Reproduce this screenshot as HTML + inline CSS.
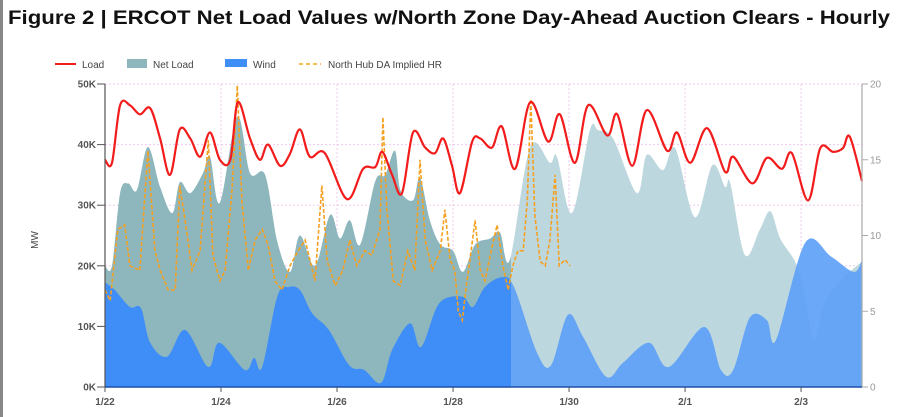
<!DOCTYPE html>
<html><head><meta charset="utf-8"><style>
html,body{margin:0;padding:0;background:#fff;}
svg{display:block;font-family:"Liberation Sans",sans-serif;}
</style></head><body>
<svg id="c" width="900" height="417" viewBox="0 0 900 417" xmlns="http://www.w3.org/2000/svg">
<rect x="0" y="0" width="900" height="417" fill="#fff"/>
<line x1="1.5" y1="0" x2="1.5" y2="417" stroke="#888" stroke-width="3"/>
<text x="8" y="24" font-size="19" font-weight="bold" fill="#111" textLength="882" lengthAdjust="spacingAndGlyphs">Figure 2 | ERCOT Net Load Values w/North Zone Day-Ahead Auction Clears - Hourly</text>
<g id="legend" font-size="10" fill="#444">
<g><line x1="55" y1="64" x2="76" y2="64" stroke="#f21c1c" stroke-width="2"/><text x="82" y="68">Load</text></g>
<g><rect x="127" y="59" width="20" height="9" fill="#8db7bd"/><text x="153" y="68">Net Load</text></g>
<g><rect x="225" y="59" width="22" height="8" fill="#3f8df6"/><text x="253" y="68">Wind</text></g>
<g><line x1="299" y1="64" x2="321" y2="64" stroke="#f5a623" stroke-width="1.5" stroke-dasharray="4,3"/><text x="328" y="68">North Hub DA Implied HR</text></g>
</g>
<g id="grid"></g>
<g id="areas"></g>
<g id="lines"></g>
<g id="axes"></g>
<text x="38" y="240" font-size="10" fill="#444" transform="rotate(-90 38 240)" text-anchor="middle">MW</text>
</svg>
<script>
const loadDays=[0,0.12,0.26,0.43,0.60,0.78,0.95,1.12,1.29,1.47,1.64,1.81,1.98,2.16,2.29,2.50,2.67,2.81,3.02,3.19,3.36,3.53,3.79,4.17,4.45,4.66,4.78,4.95,5.12,5.31,5.52,5.69,5.83,5.98,6.12,6.33,6.47,6.67,6.84,7.07,7.33,7.64,7.84,8.10,8.33,8.66,8.83,9.09,9.34,9.69,9.86,10.09,10.38,10.69,10.83,11.16,11.41,11.67,11.84,12.12,12.33,12.55,12.72,12.84,13.05];
const loadVals=[37.5,37,46.5,46.5,45,46,41,35,42.5,41,38,42,37.5,37.5,47,41,37.5,40,36.5,38.5,42.5,38,38.6,31,36,36.3,38.8,35,32,42,39.5,38.6,41,36.6,32,40.5,41,39.5,43,36,47,40.5,45,37,46.5,41.5,45,36.5,45.7,39,42,37,42.7,35.5,38,33.6,37.8,36,38.6,30.8,39.4,38.8,39.4,41.3,34];
const netDays=[0,0.12,0.26,0.40,0.55,0.74,0.95,1.16,1.29,1.47,1.69,1.81,1.98,2.28,2.50,2.76,2.97,3.19,3.36,3.62,3.88,4.05,4.22,4.40,4.66,4.83,5.00,5.09,5.31,5.43,5.60,5.78,6.00,6.17,6.38,6.64,6.81,6.98,7.33,7.67,7.79,8.05,8.36,8.50,8.76,9.17,9.34,9.62,9.83,10.17,10.47,10.69,10.78,11.03,11.29,11.47,11.64,11.91,12.07,12.22,12.41,12.67,13.05];
const netVals=[20,20,32,33.6,32.5,39.6,33,28.7,33.8,32,35.3,38,30.4,44.6,35.3,35,24,19,25,20,28.4,24.5,27.5,23.5,34,35,39,32.5,30.8,34.5,27.5,23.5,22.5,19,23.5,24.5,25.5,21,39.6,37,38,28.7,42.4,42.4,41,32,38.3,35.8,39.4,28,36.6,33,33.6,21.8,26,29,24.5,20.4,15,7.8,14,17.5,20.7];
const windDays=[0,0.17,0.43,0.62,0.78,1.07,1.38,1.78,1.97,2.41,2.57,2.71,2.97,3.17,3.36,3.57,3.86,4.21,4.47,4.76,4.95,5.26,5.45,5.76,6.16,6.34,6.55,6.84,7.05,7.45,7.69,7.98,8.24,8.64,8.93,9.38,9.72,10.33,10.62,10.83,11.12,11.41,11.57,12.07,12.52,12.91,13.05];
const windVals=[17.3,16,13.2,13,7.3,5,9.4,3.3,7.3,2.8,4.8,3.3,14.9,16.5,16,12.2,9.4,3.6,2.8,0.7,6.1,10.5,6.6,13.8,14.9,13.2,16.5,18.1,16.5,5.6,3.6,11.9,8.3,1.7,4,7.3,3.3,9.9,2.8,2.8,11.5,11,7.8,23.8,21.5,19,21];
const hrDays=[0,0.09,0.22,0.34,0.43,0.60,0.74,0.86,0.95,1.09,1.21,1.29,1.38,1.50,1.64,1.78,1.86,1.98,2.07,2.19,2.28,2.36,2.47,2.59,2.71,2.81,2.93,3.05,3.19,3.33,3.45,3.62,3.74,3.83,3.97,4.10,4.22,4.34,4.48,4.60,4.74,4.79,4.86,4.97,5.09,5.22,5.34,5.43,5.52,5.64,5.78,5.86,5.95,6.03,6.09,6.16,6.22,6.29,6.38,6.47,6.55,6.64,6.76,6.86,6.95,7.03,7.12,7.21,7.28,7.34,7.41,7.50,7.59,7.67,7.76,7.83,7.93,8.02];
const hrVals=[6.4,5.7,10.4,10.7,8,7.7,15.6,9,7.7,6.4,6.4,13.3,11,7.7,9,16.3,8.7,7,7.7,13,19.9,12.3,7.7,9.7,10.4,9.4,7,6.4,8,9,9.7,7,13.3,8.3,6.7,7.7,9.7,8,9,8.7,10.4,17.8,11.7,7,6.7,9,7.7,15,9.7,7.7,9,11.7,8.4,7.7,5,4.4,6.4,8.4,11,7.7,7,8.7,10.7,8,6.4,8,9,9,12.3,19,11.4,8.3,8,9.7,14,8,8.4,8];
const xTickDays=[0,2,4,6,8,10,12];
const xTickLabels=["1/22","1/24","1/26","1/28","1/30","2/1","2/3"];
const yTicks=[0,10,20,30,40,50];
const yTickLabels=["0K","10K","20K","30K","40K","50K"];
const y2Ticks=[0,5,10,15,20];
const forecastStart=7.0;

const X0=105,X1=862,Y0=387,Y1=84,DMAX=13.05;
const xs=d=>X0+(d/DMAX)*(X1-X0);
const ys=v=>Y0-(v/50)*(Y0-Y1);
const ys2=v=>Y0-(v/20)*(Y0-Y1);
const NS="http://www.w3.org/2000/svg";
function mk(tag,attrs,parent){const e=document.createElementNS(NS,tag);for(const k in attrs)e.setAttribute(k,attrs[k]);parent.appendChild(e);return e;}
function smooth(pts){let d="M"+pts[0][0].toFixed(1)+","+pts[0][1].toFixed(1);
 for(let i=0;i<pts.length-1;i++){const p0=pts[Math.max(0,i-1)],p1=pts[i],p2=pts[i+1],p3=pts[Math.min(pts.length-1,i+2)];
 const c1=[p1[0]+(p2[0]-p0[0])/6,p1[1]+(p2[1]-p0[1])/6],c2=[p2[0]-(p3[0]-p1[0])/6,p2[1]-(p3[1]-p1[1])/6];
 d+="C"+c1[0].toFixed(1)+","+c1[1].toFixed(1)+" "+c2[0].toFixed(1)+","+c2[1].toFixed(1)+" "+p2[0].toFixed(1)+","+p2[1].toFixed(1);}
 return d;}
const grid=document.getElementById('grid'),areas=document.getElementById('areas'),lines=document.getElementById('lines'),axes=document.getElementById('axes');
yTicks.forEach(v=>{if(v===0)return;const l=mk('line',{x1:X0,x2:X1,y1:ys(v),y2:ys(v),stroke:'#f0c8ee','stroke-dasharray':'2,2','stroke-width':1},grid);

});
xTickDays.forEach(d=>{if(d===0)return;const l=mk('line',{x1:xs(d),x2:xs(d),y1:Y1,y2:Y0,stroke:'#f0c8ee','stroke-dasharray':'2,2','stroke-width':1},grid);

});
const defs=mk('defs',{},document.getElementById('c'));
const ca=mk('clipPath',{id:'hist'},defs);mk('rect',{x:0,y:0,width:xs(forecastStart),height:417},ca);
const cb=mk('clipPath',{id:'fcst'},defs);mk('rect',{x:xs(forecastStart),y:0,width:900,height:417},cb);
function areaPath(days,vals){const pts=days.map((d,i)=>[xs(d),ys(vals[i])]);return smooth(pts)+"L"+xs(days[days.length-1]).toFixed(1)+","+Y0+"L"+xs(days[0]).toFixed(1)+","+Y0+"Z";}
const netD=areaPath(netDays,netVals),windD=areaPath(windDays,windVals);
let p=mk('path',{d:netD,fill:'#8db7bd','clip-path':'url(#hist)'},areas);


p=mk('path',{d:windD,fill:'#3f8df6','clip-path':'url(#hist)'},areas);


p=mk('path',{d:netD,fill:'#bdd7de','clip-path':'url(#fcst)'},areas);


p=mk('path',{d:windD,fill:'#5c9ef7','fill-opacity':0.9,'clip-path':'url(#fcst)'},areas);


const hrPts=hrDays.map((d,i)=>xs(d).toFixed(1)+","+ys2(hrVals[i]).toFixed(1)).join(" ");
p=mk('polyline',{points:hrPts,fill:'none',stroke:'#f5a020','stroke-width':1.6,'stroke-dasharray':'4,2'},lines);


p=mk('path',{d:smooth(loadDays.map((d,i)=>[xs(d),ys(loadVals[i])])),fill:'none',stroke:'#f21c1c','stroke-width':2.2},lines);


let a=mk('line',{x1:X0,x2:X0,y1:Y1,y2:Y0,stroke:'#555','stroke-width':1.2},axes);


a=mk('line',{x1:X1,x2:X1,y1:Y1,y2:Y0,stroke:'#aaa','stroke-width':1.2},axes);


a=mk('line',{x1:X0,x2:X1,y1:Y0,y2:Y0,stroke:'#1f4fa8','stroke-width':1.5},axes);


yTicks.forEach((v,i)=>{mk('line',{x1:X0-8,x2:X0,y1:ys(v),y2:ys(v),stroke:'#555'},axes);
const t=mk('text',{x:X0-9,y:ys(v)+3.5,'font-size':10,'font-weight':'bold',fill:'#555','text-anchor':'end'},axes);t.textContent=yTickLabels[i];

});
y2Ticks.forEach(v=>{mk('line',{x1:X1,x2:X1+6,y1:ys2(v),y2:ys2(v),stroke:'#aaa'},axes);
const t=mk('text',{x:X1+8,y:ys2(v)+3.5,'font-size':10,fill:'#999'},axes);t.textContent=String(v);

});
xTickDays.forEach((d,i)=>{mk('line',{x1:xs(d),x2:xs(d),y1:Y0,y2:Y0+5,stroke:'#555'},axes);
const t=mk('text',{x:xs(d),y:Y0+18,'font-size':10,'font-weight':'bold',fill:'#555','text-anchor':'middle'},axes);t.textContent=xTickLabels[i];

});
</script>
</body></html>
